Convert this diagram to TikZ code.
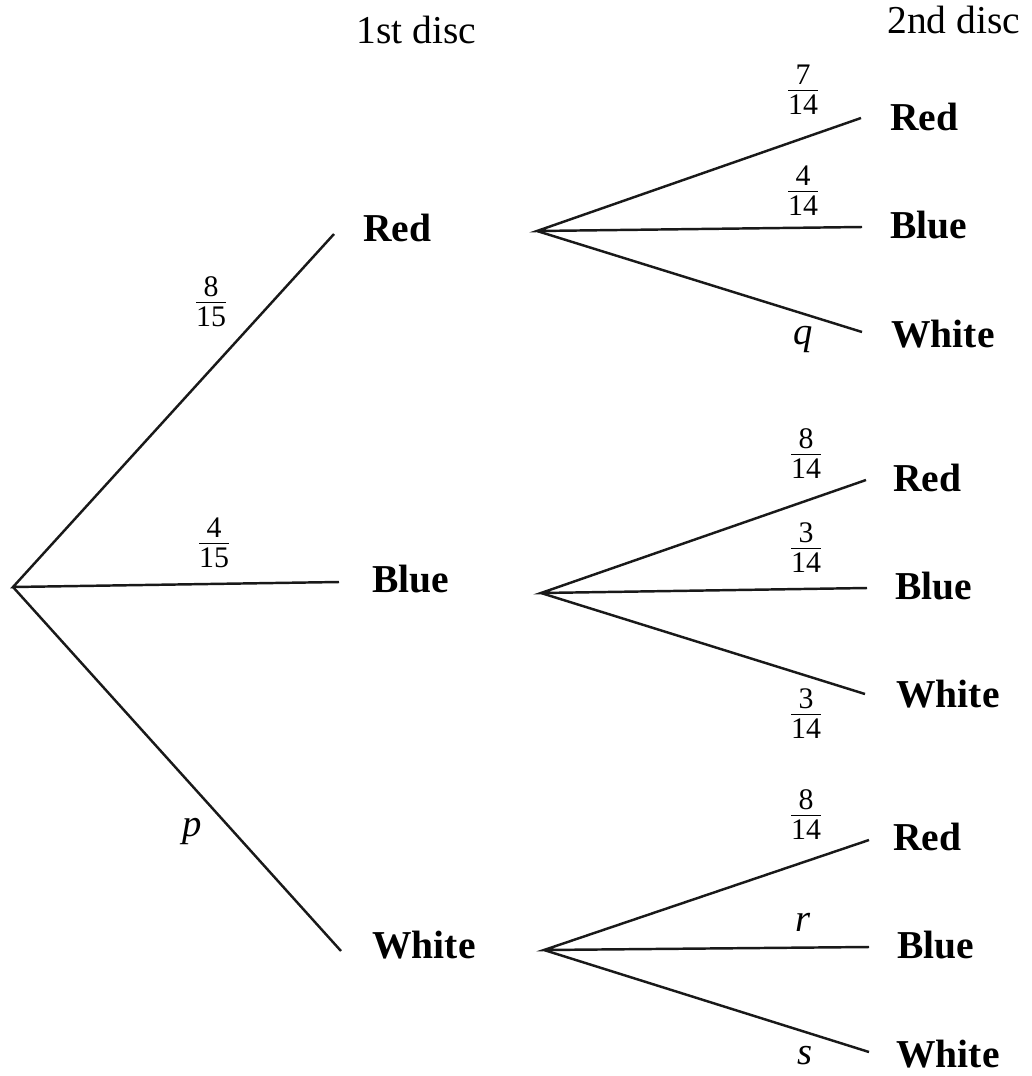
\documentclass[tikz,border=0pt]{standalone}
\usepackage{fontspec}
\setmainfont{Liberation Serif}
\newcommand{\fr}[2]{{\setlength{\arrayrulewidth}{0.9pt}\begin{tabular}{@{}c@{}}#1\\[-3pt]\hline #2\end{tabular}}}
\begin{document}
\begin{tikzpicture}[x=0.02cm,y=-0.02cm,
  branch/.style={line width=1.4pt, draw=black!90},
  outcome/.style={anchor=base west, inner sep=0pt, font=\fontsize{22.5}{26}\selectfont\bfseries},
  heading/.style={anchor=base west, inner sep=0pt, font=\fontsize{22.5}{26}\selectfont},
  prob/.style={inner sep=0pt, font=\fontsize{17}{19}\selectfont},
  var/.style={anchor=base, inner sep=0pt, font=\fontsize{22}{26}\selectfont\itshape}]
\useasboundingbox (0,0) rectangle (1032,1076);
% headings
\node[heading] (h1) at (356,43) {1st disc};
\node[heading] (h2) at (887,33) {2nd disc};
% coordinates
\coordinate (root) at (13,587);
\coordinate (eR) at (334,234);
\coordinate (eB) at (339,582);
\coordinate (eW) at (341,951);
\coordinate (oR) at (537,231);
\coordinate (oB) at (541,593);
\coordinate (oW) at (544,950);
\coordinate (eRR) at (861,118);
\coordinate (eRB) at (862,227);
\coordinate (eRW) at (862,332);
\coordinate (eBR) at (866,480);
\coordinate (eBB) at (867,588);
\coordinate (eBW) at (865,694);
\coordinate (eWR) at (869,840);
\coordinate (eWB) at (869,947);
\coordinate (eWW) at (869,1052);
% first level labels
\node[outcome] (R) at (363,241) {Red};
\node[outcome] (B) at (372,592) {Blue};
\node[outcome] (W) at (372,958) {White};
% second level labels
\node[outcome] (RR) at (890,130) {Red};
\node[outcome] (RB) at (890,238) {Blue};
\node[outcome] (RW) at (891,347) {White};
\node[outcome] (BR) at (893,491) {Red};
\node[outcome] (BB) at (895,599) {Blue};
\node[outcome] (BW) at (896,707) {White};
\node[outcome] (WR) at (893,850) {Red};
\node[outcome] (WB) at (897,958) {Blue};
\node[outcome] (WW) at (896,1067) {White};
% branches
\draw[branch] (eR) -- (root) -- (eB);
\draw[branch] (root) -- (eW);
\draw[branch] (eRR) -- (oR) -- (eRB);
\draw[branch] (oR) -- (eRW);
\draw[branch] (eBR) -- (oB) -- (eBB);
\draw[branch] (oB) -- (eBW);
\draw[branch] (eWR) -- (oW) -- (eWB);
\draw[branch] (oW) -- (eWW);
% probabilities
\node[prob] (p815) at (211,305) {\fr{8}{15}};
\node[prob] (p415) at (214,546) {\fr{4}{15}};
\node[var] (pp) at (192,836) {p};
\node[prob] (p714) at (803,93) {\fr{7}{14}};
\node[prob] (p414) at (803,194) {\fr{4}{14}};
\node[var] (pq) at (803,344) {q};
\node[prob] (p814a) at (806,457) {\fr{8}{14}};
\node[prob] (p314a) at (806,551) {\fr{3}{14}};
\node[prob] (p314b) at (806,717) {\fr{3}{14}};
\node[prob] (p814b) at (806,818) {\fr{8}{14}};
\node[var] (pr) at (803,931) {r};
\node[var] (ps) at (805,1064) {s};
\end{tikzpicture}
\end{document}
